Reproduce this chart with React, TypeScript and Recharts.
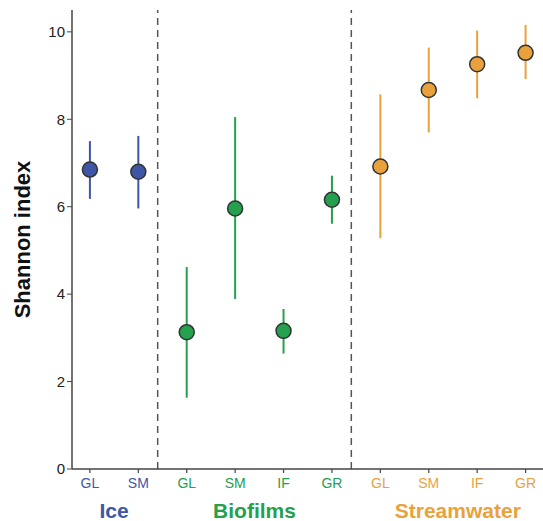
import {
  ErrorBar,
  ReferenceLine,
  Scatter,
  ScatterChart,
  XAxis,
  YAxis,
} from 'recharts';

const categories = ['GL', 'SM', 'GL', 'SM', 'IF', 'GR', 'GL', 'SM', 'IF', 'GR'];
const groupNames = ['Ice', 'Biofilms', 'Streamwater'];
const groupColors = ['#3f56a6', '#24a04e', '#e9a23b'];
const groupCenters = [0.5, 3.4, 7.6];
const dividers = [1.4, 5.4];

const iceMean = [6.85, 6.8];
const iceLow = [6.18, 5.96];
const iceHigh = [7.5, 7.62];

const bioMean = [3.13, 5.96, 3.16, 6.16];
const bioLow = [1.63, 3.89, 2.64, 5.61];
const bioHigh = [4.62, 8.05, 3.66, 6.71];

const streamMean = [6.92, 8.67, 9.26, 9.52];
const streamLow = [5.28, 7.7, 8.48, 8.92];
const streamHigh = [8.57, 9.64, 10.03, 10.16];

const yTicks = [0, 2, 4, 6, 8, 10];

const FONT = '"Liberation Sans", Arial, sans-serif';

function build(start: number, mean: number[], low: number[], high: number[]) {
  return mean.map((m, i) => ({
    x: start + i,
    y: m,
    err: [m - low[i], high[i] - m],
  }));
}

const iceData = build(0, iceMean, iceLow, iceHigh);
const bioData = build(2, bioMean, bioLow, bioHigh);
const streamData = build(6, streamMean, streamLow, streamHigh);

function groupOf(i: number) {
  if (i < 2) return 0;
  if (i < 6) return 1;
  return 2;
}

const xTicks = [...categories.map((_, i) => i), ...groupCenters];

function XTick(props: any) {
  const { x, y, payload } = props;
  const v = payload.value as number;
  const gi = groupCenters.indexOf(v);
  if (gi >= 0) {
    return (
      <text
        x={x}
        y={y + 41}
        textAnchor="middle"
        fontFamily={FONT}
        fontWeight="bold"
        fontSize={21}
        fill={groupColors[gi]}
      >
        {groupNames[gi]}
      </text>
    );
  }
  return (
    <g>
      <line x1={x} x2={x} y1={y - 8} y2={y - 4} stroke="#444" strokeWidth={1.2} />
      <text
        x={x}
        y={y + 11}
        textAnchor="middle"
        fontFamily={FONT}
        fontSize={14}
        fill={groupColors[groupOf(v)]}
      >
        {categories[v]}
      </text>
    </g>
  );
}

function dot(color: string) {
  return (props: any) => (
    <circle cx={props.cx} cy={props.cy} r={7.5} fill={color} stroke="#333" strokeWidth={1.5} />
  );
}

export default function App() {
  return (
    <div style={{ position: 'absolute', left: 0, top: 0, background: '#fff' }}>
      <ScatterChart
        width={543}
        height={521}
        margin={{ top: 10, right: 0, bottom: 0, left: 0 }}
      >
        <XAxis
          type="number"
          dataKey="x"
          domain={[-0.37, 9.36]}
          ticks={xTicks}
          interval={0}
          tick={<XTick />}
          tickLine={false}
          axisLine={{ stroke: '#444', strokeWidth: 1.5 }}
          height={52}
          allowDataOverflow
        />
        <YAxis
          type="number"
          dataKey="y"
          domain={[0, 10.5]}
          ticks={yTicks}
          width={72}
          tickSize={5}
          tickLine={{ stroke: '#444' }}
          axisLine={{ stroke: '#444', strokeWidth: 1.5 }}
          tick={{ fill: '#222', fontSize: 15, fontFamily: FONT }}
          label={{
            value: 'Shannon index',
            angle: -90,
            position: 'center',
            dx: -14,
            style: { fontFamily: FONT, fontWeight: 'bold', fontSize: 22, fill: '#111' },
          }}
        />
        {dividers.map((d) => (
          <ReferenceLine
            key={d}
            x={d}
            stroke="#555"
            strokeWidth={1.5}
            strokeDasharray="7 5"
          />
        ))}
        <Scatter data={iceData} shape={dot(groupColors[0])} isAnimationActive={false}>
          <ErrorBar dataKey="err" direction="y" width={0} stroke={groupColors[0]} strokeWidth={2} />
        </Scatter>
        <Scatter data={bioData} shape={dot(groupColors[1])} isAnimationActive={false}>
          <ErrorBar dataKey="err" direction="y" width={0} stroke={groupColors[1]} strokeWidth={2} />
        </Scatter>
        <Scatter data={streamData} shape={dot(groupColors[2])} isAnimationActive={false}>
          <ErrorBar dataKey="err" direction="y" width={0} stroke={groupColors[2]} strokeWidth={2} />
        </Scatter>
      </ScatterChart>
    </div>
  );
}
